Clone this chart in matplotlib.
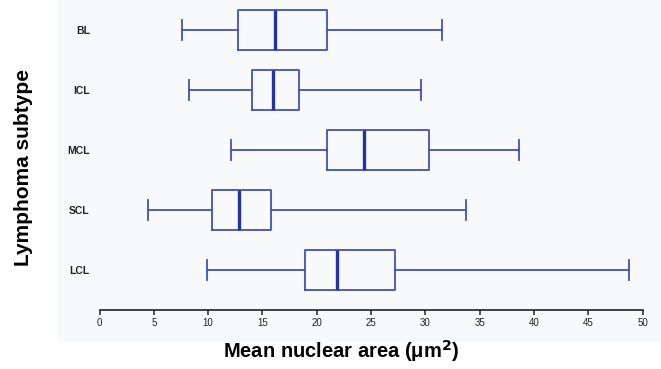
import matplotlib
matplotlib.use("Agg")
import matplotlib.pyplot as plt
from matplotlib.patches import Rectangle

plt.rcParams['font.family'] = ['Liberation Sans', 'DejaVu Sans']

# lymphoma subtypes, bottom to top
subtypes = ['LCL', 'SCL', 'MCL', 'ICL', 'BL']
whisk_lo = [9.9, 4.5, 12.1, 8.2, 7.6]
q1 = [18.95, 10.35, 20.9, 14.05, 12.75]
median = [21.85, 12.8, 24.35, 16.0, 16.2]
q3 = [27.2, 15.75, 30.3, 18.35, 20.9]
whisk_hi = [48.7, 33.75, 38.6, 29.6, 31.5]

box_col = '#4450b8'
med_col = '#2433a4'

fig = plt.figure(figsize=(6.61, 3.69), dpi=100)
# faint panel behind the plot
fig.patches.append(Rectangle((58/661, 26/369), 1, 1, transform=fig.transFigure,
                             facecolor='#f8f9fb', edgecolor='none', zorder=-10))

ax = fig.add_axes([99.5/661, 59/369, 543.2/661, 310/369])
ax.set_facecolor('none')
ax.set_zorder(2)

stats = []
for i in range(len(subtypes)):
    stats.append(dict(label=subtypes[i], whislo=whisk_lo[i], q1=q1[i], med=median[i],
                      q3=q3[i], whishi=whisk_hi[i], fliers=[]))

ax.bxp(stats, positions=range(1, 6), vert=False, widths=0.67, capwidths=0.33,
       showfliers=False,
       boxprops=dict(color=box_col, linewidth=1.3),
       whiskerprops=dict(color=box_col, linewidth=1.3),
       capprops=dict(color=box_col, linewidth=1.3),
       medianprops=dict(color=med_col, linewidth=2.4))

ax.set_xlim(0, 50)
ax.set_ylim(0.333, 5.5)
ax.set_xticks(range(0, 51, 5))
for s in ['left', 'top', 'right']:
    ax.spines[s].set_visible(False)
ax.spines['bottom'].set_color('#222222')
ax.spines['bottom'].set_linewidth(1.2)
ax.tick_params(axis='x', length=3.5, width=1.1, color='#222222', labelsize=7,
               labelcolor='#222222', pad=2)
ax.tick_params(axis='y', length=0, labelsize=7.5, labelcolor='#222222', pad=7)
for lab in ax.get_yticklabels():
    lab.set_fontweight('bold')

ax.set_xlabel('Mean nuclear area (μm$^{\\mathbf{2}}$)', fontsize=14.5, fontweight='bold')
ax.xaxis.set_label_coords(0.445, -0.092)
ax.set_ylabel('Lymphoma subtype', fontsize=15, fontweight='bold')
ax.yaxis.set_label_coords(-0.123, 0.46)

fig.savefig('out.png', dpi=100)
